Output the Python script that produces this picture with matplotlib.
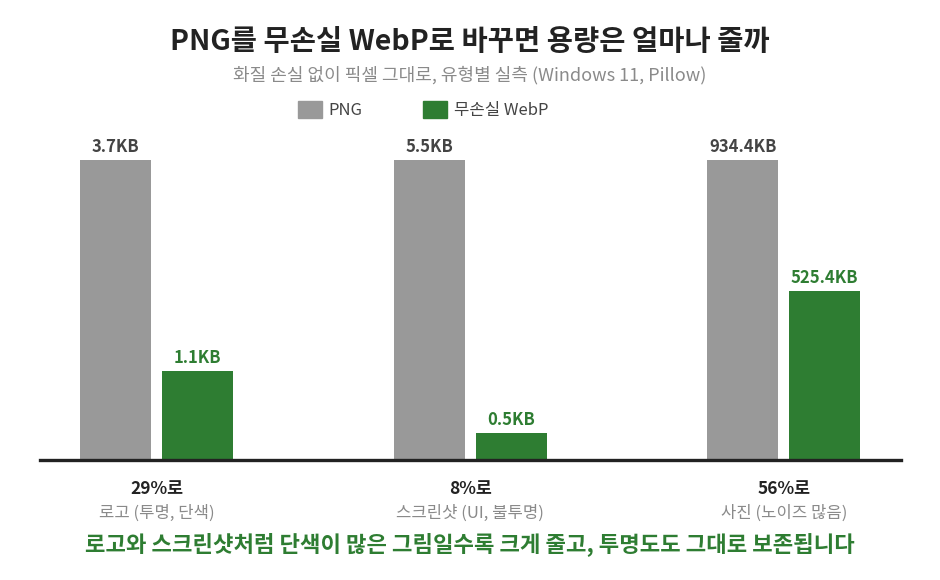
import numpy as np
import matplotlib
matplotlib.use("Agg")
from matplotlib import pyplot as plt
from matplotlib.patches import Patch

plt.rcParams['font.family'] = ['Noto Sans CJK KR', 'DejaVu Sans']

categories = ["로고 (투명, 단색)", "스크린샷 (UI, 불투명)", "사진 (노이즈 많음)"]
png_kb = [3.7, 5.5, 934.4]
webp_kb = [1.1, 0.5, 525.4]
ratio_labels = ["29%로", "8%로", "56%로"]
series_names = ["PNG", "무손실 WebP"]

GRAY = "#999999"
GREEN = "#2e7d32"

png = np.array(png_kb)
webp = np.array(webp_kb)
# each group scaled to its own PNG size
png_h = png / png * 100
webp_h = webp / png * 100

fig = plt.figure(figsize=(9.4, 5.8), dpi=100)
ax = fig.add_axes([40 / 940, 1 - 460 / 580, 861 / 940, 330 / 580])

x = np.arange(len(categories))
w = 0.226
off = 0.1306
ax.bar(x - off, png_h, w, color=GRAY)
ax.bar(x + off, webp_h, w, color=GREEN)

ax.set_xlim(-0.372, 2.374)
ax.set_ylim(0, 110)
for s in ["top", "left", "right"]:
    ax.spines[s].set_visible(False)
ax.spines["bottom"].set_linewidth(2.4)
ax.spines["bottom"].set_color("#222222")
ax.set_xticks([])
ax.set_yticks([])

for i in range(len(categories)):
    ax.annotate(f"{png_kb[i]}KB", (x[i] - off, png_h[i]), xytext=(0, 3),
                textcoords="offset points", ha="center", va="bottom",
                fontsize=12, fontweight="bold", color="#444444")
    ax.annotate(f"{webp_kb[i]}KB", (x[i] + off, webp_h[i]), xytext=(0, 3),
                textcoords="offset points", ha="center", va="bottom",
                fontsize=12, fontweight="bold", color=GREEN)
    ax.annotate(ratio_labels[i], (x[i], 0), xytext=(0, -21),
                textcoords="offset points", ha="center", va="center",
                fontsize=12.5, fontweight="bold", color="#222222")
    ax.annotate(categories[i], (x[i], 0), xytext=(0, -38),
                textcoords="offset points", ha="center", va="center",
                fontsize=12, color="#8a8a8a")

fig.text(0.5, 1 - 42 / 580, "PNG를 무손실 WebP로 바꾸면 용량은 얼마나 줄까",
         ha="center", va="center", fontsize=20.5, fontweight="bold", color="#222222")
fig.text(0.5, 1 - 75 / 580, "화질 손실 없이 픽셀 그대로, 유형별 실측 (Windows 11, Pillow)",
         ha="center", va="center", fontsize=13, color="#8a8a8a")
fig.text(0.5, 1 - 544 / 580, "로고와 스크린샷처럼 단색이 많은 그림일수록 크게 줄고, 투명도도 그대로 보존됩니다",
         ha="center", va="center", fontsize=16, fontweight="bold", color=GREEN)

handles = [Patch(color=GRAY), Patch(color=GREEN)]
fig.legend(handles, series_names, loc="center", bbox_to_anchor=(423 / 940, 1 - 110 / 580),
           ncol=2, frameon=False, fontsize=12, handlelength=1.45, handleheight=1.15,
           handletextpad=0.4, columnspacing=3.6, labelcolor="#444444")

fig.savefig("out.png", dpi=100, facecolor="white")
